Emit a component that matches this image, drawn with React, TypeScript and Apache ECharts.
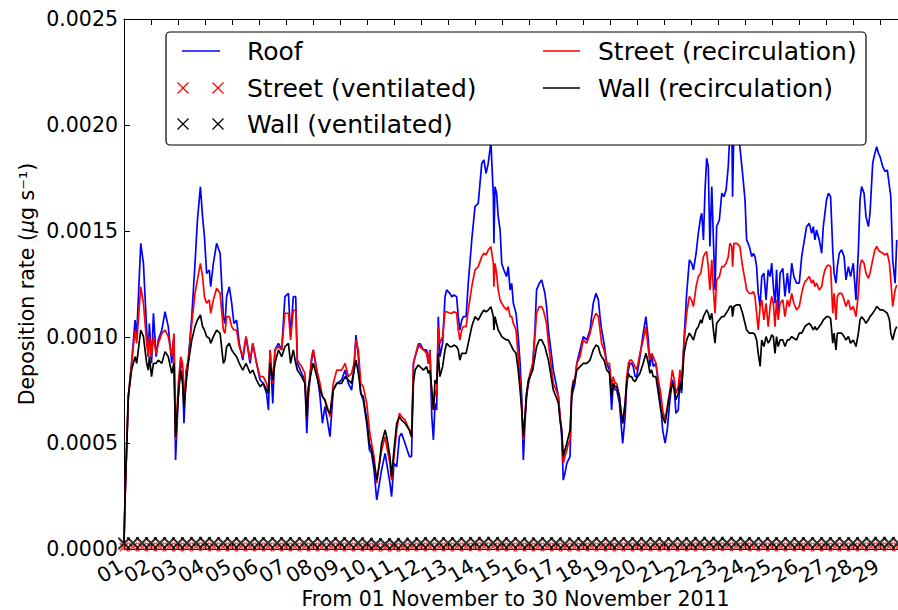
import React, { useEffect, useRef } from 'react';
import * as echarts from 'echarts';

// Day tick labels (01 .. 30 November 2011)
const dayLabels = [
  '01', '02', '03', '04', '05', '06', '07', '08', '09', '10', '11', '12', '13', '14', '15',
  '16', '17', '18', '19', '20', '21', '22', '23', '24', '25', '26', '27', '28', '29', '30',
];

// Time in days of November 2011 (1.0 = 01 Nov 00:00)
const days = [
  1.00, 1.04, 1.16, 1.28, 1.41, 1.47, 1.62, 1.72, 1.84, 1.90, 1.94, 2.02, 2.09, 2.19, 2.27, 2.40, 2.52, 2.64, 2.77, 2.85,
  2.91, 3.01, 3.10, 3.17, 3.22, 3.30, 3.38, 3.51, 3.63, 3.72, 3.83, 3.91, 3.98, 4.06, 4.16, 4.21, 4.31, 4.43, 4.56, 4.68,
  4.74, 4.80, 4.90, 4.99, 5.07, 5.17, 5.27, 5.40, 5.52, 5.67, 5.77, 5.91, 6.04, 6.16, 6.28, 6.35, 6.41, 6.51, 6.59, 6.72,
  6.84, 6.96, 7.09, 7.17, 7.27, 7.36, 7.42, 7.58, 7.70, 7.77, 7.83, 7.95, 8.01, 8.14, 8.26, 8.35, 8.44, 8.53, 8.63, 8.75,
  8.88, 9.06, 9.19, 9.31, 9.43, 9.52, 9.59, 9.68, 9.77, 9.86, 9.99, 10.09, 10.17, 10.26, 10.36, 10.46, 10.54, 10.67, 10.73, 10.85,
  10.91, 11.00, 11.10, 11.20, 11.28, 11.41, 11.57, 11.65, 11.72, 11.78, 11.90, 11.96, 12.09, 12.21, 12.27, 12.33, 12.40, 12.46, 12.52, 12.58,
  12.64, 12.70, 12.80, 12.89, 12.95, 13.07, 13.14, 13.22, 13.32, 13.38, 13.44, 13.51, 13.57, 13.67, 13.75, 13.88, 14.00, 14.12, 14.25, 14.33,
  14.41, 14.49, 14.59, 14.68, 14.70, 14.74, 14.80, 14.86, 14.93, 14.99, 15.07, 15.17, 15.23, 15.30, 15.36, 15.42, 15.52, 15.60, 15.67, 15.73,
  15.79, 15.85, 15.91, 15.98, 16.04, 16.14, 16.22, 16.28, 16.38, 16.47, 16.53, 16.59, 16.65, 16.72, 16.78, 16.84, 16.90, 17.00, 17.09, 17.15,
  17.21, 17.27, 17.33, 17.40, 17.46, 17.52, 17.58, 17.64, 17.70, 17.77, 17.89, 18.01, 18.14, 18.26, 18.38, 18.48, 18.57, 18.63, 18.69, 18.78,
  18.88, 18.98, 19.06, 19.12, 19.19, 19.25, 19.35, 19.40, 19.47, 19.56, 19.62, 19.68, 19.74, 19.80, 19.86, 19.93, 19.99, 20.11, 20.23, 20.33,
  20.42, 20.48, 20.54, 20.60, 20.70, 20.79, 20.88, 20.95, 21.04, 21.12, 21.22, 21.31, 21.38, 21.44, 21.53, 21.59, 21.65, 21.74, 21.84, 21.94,
  22.02, 22.09, 22.19, 22.27, 22.36, 22.40, 22.46, 22.52, 22.58, 22.64, 22.70, 22.77, 22.83, 22.89, 22.95, 23.05, 23.14, 23.22, 23.30, 23.38,
  23.44, 23.51, 23.54, 23.59, 23.69, 23.81, 23.91, 24.00, 24.06, 24.16, 24.25, 24.31, 24.37, 24.43, 24.49, 24.56, 24.62, 24.70, 24.78, 24.86,
  24.93, 24.99, 25.05, 25.11, 25.17, 25.23, 25.30, 25.40, 25.48, 25.57, 25.64, 25.73, 25.81, 25.91, 26.01, 26.10, 26.16, 26.22, 26.28, 26.38,
  26.47, 26.53, 26.59, 26.65, 26.75, 26.84, 26.90, 26.96, 27.02, 27.09, 27.17, 27.25, 27.30, 27.37, 27.42, 27.49, 27.58, 27.67, 27.74, 27.83,
  27.91, 28.01, 28.11, 28.20, 28.26, 28.32, 28.41, 28.48, 28.57, 28.63, 28.73, 28.81, 28.88, 28.94, 29.00, 29.10, 29.19, 29.27, 29.35, 29.40,
  29.47, 29.56, 29.62,
];

// Roof deposition rate (ug s-1)
const roof = [
  3e-5, 24.7e-5, 71.9e-5, 87.6e-5, 108.0e-5, 100.2e-5, 144.2e-5, 134.7e-5, 103.3e-5, 90.7e-5, 106.4e-5, 87.6e-5, 111.2e-5, 90.7e-5, 98.6e-5, 103.3e-5, 111.9e-5, 104.9e-5, 87.6e-5, 100.2e-5,
  42.0e-5, 71.9e-5, 89.1e-5, 84.4e-5, 59.3e-5, 82.9e-5, 89.1e-5, 109.6e-5, 134.7e-5, 155.2e-5, 170.9e-5, 156.8e-5, 147.3e-5, 130.0e-5, 131.6e-5, 123.7e-5, 134.7e-5, 144.2e-5, 139.5e-5, 109.6e-5,
  106.4e-5, 119.0e-5, 123.7e-5, 115.9e-5, 106.4e-5, 108.0e-5, 97.0e-5, 89.1e-5, 100.2e-5, 87.6e-5, 97.0e-5, 87.6e-5, 79.7e-5, 78.1e-5, 73.4e-5, 65.6e-5, 93.9e-5, 68.7e-5, 93.9e-5, 97.0e-5,
  93.9e-5, 119.0e-5, 120.6e-5, 100.2e-5, 119.0e-5, 119.0e-5, 87.6e-5, 82.9e-5, 79.7e-5, 54.6e-5, 71.9e-5, 89.1e-5, 93.9e-5, 84.4e-5, 71.9e-5, 59.3e-5, 67.1e-5, 60.8e-5, 53.0e-5, 75.0e-5,
  78.1e-5, 79.7e-5, 84.4e-5, 78.1e-5, 75.0e-5, 84.4e-5, 100.9e-5, 90.7e-5, 73.4e-5, 70.3e-5, 59.3e-5, 46.7e-5, 45.1e-5, 37.3e-5, 23.1e-5, 31.0e-5, 37.3e-5, 45.1e-5, 40.4e-5, 31.0e-5,
  24.7e-5, 40.4e-5, 38.8e-5, 53.0e-5, 54.6e-5, 49.8e-5, 43.6e-5, 43.6e-5, 87.6e-5, 90.7e-5, 95.4e-5, 97.0e-5, 93.9e-5, 93.9e-5, 87.6e-5, 93.9e-5, 62.4e-5, 51.4e-5, 68.7e-5, 65.6e-5,
  109.6e-5, 90.7e-5, 97.0e-5, 119.0e-5, 122.2e-5, 120.6e-5, 119.0e-5, 119.8e-5, 119.0e-5, 109.6e-5, 103.3e-5, 108.0e-5, 109.6e-5, 109.6e-5, 125.3e-5, 145.8e-5, 161.5e-5, 163.0e-5, 181.9e-5, 183.5e-5,
  177.2e-5, 181.9e-5, 192.0e-5, 166.2e-5, 144.2e-5, 170.9e-5, 167.8e-5, 156.8e-5, 150.5e-5, 134.7e-5, 131.6e-5, 128.5e-5, 133.2e-5, 122.2e-5, 125.3e-5, 115.9e-5, 111.2e-5, 100.2e-5, 87.6e-5, 71.9e-5,
  42.0e-5, 59.3e-5, 71.9e-5, 78.1e-5, 81.3e-5, 87.6e-5, 103.3e-5, 122.2e-5, 125.3e-5, 126.9e-5, 123.7e-5, 120.6e-5, 114.3e-5, 103.3e-5, 97.0e-5, 90.7e-5, 84.4e-5, 78.1e-5, 71.9e-5, 62.4e-5,
  53.0e-5, 32.5e-5, 35.7e-5, 40.4e-5, 42.0e-5, 43.6e-5, 71.9e-5, 75.0e-5, 78.1e-5, 87.6e-5, 93.9e-5, 100.2e-5, 98.6e-5, 103.3e-5, 115.9e-5, 120.6e-5, 117.5e-5, 109.6e-5, 103.3e-5, 97.0e-5,
  87.6e-5, 84.4e-5, 65.6e-5, 78.1e-5, 75.0e-5, 75.0e-5, 68.7e-5, 60.8e-5, 49.8e-5, 62.4e-5, 78.1e-5, 84.4e-5, 87.6e-5, 87.6e-5, 86.0e-5, 81.3e-5, 81.3e-5, 90.8e-5, 101.8e-5, 109.6e-5,
  98.6e-5, 86.1e-5, 92.3e-5, 86.1e-5, 87.6e-5, 78.2e-5, 67.2e-5, 56.2e-5, 49.9e-5, 56.2e-5, 70.3e-5, 79.8e-5, 76.6e-5, 64.0e-5, 65.6e-5, 79.8e-5, 73.5e-5, 98.6e-5, 120.6e-5, 136.4e-5,
  134.8e-5, 131.7e-5, 139.5e-5, 148.9e-5, 156.8e-5, 158.4e-5, 145.8e-5, 169.4e-5, 184.3e-5, 180.4e-5, 142.7e-5, 171.0e-5, 145.8e-5, 122.2e-5, 152.1e-5, 155.2e-5, 167.8e-5, 166.2e-5, 169.4e-5, 180.4e-5,
  196.1e-5, 202.4e-5, 166.2e-5, 199.3e-5, 202.4e-5, 189.8e-5, 177.2e-5, 164.7e-5, 145.8e-5, 142.7e-5, 137.9e-5, 139.5e-5, 137.9e-5, 133.2e-5, 120.6e-5, 114.4e-5, 128.5e-5, 130.1e-5, 117.5e-5, 131.7e-5,
  128.5e-5, 134.8e-5, 123.8e-5, 115.9e-5, 131.7e-5, 111.2e-5, 130.1e-5, 132.4e-5, 119.1e-5, 130.1e-5, 120.6e-5, 134.8e-5, 128.5e-5, 125.4e-5, 125.4e-5, 137.9e-5, 142.7e-5, 147.4e-5, 152.1e-5, 153.6e-5,
  148.9e-5, 152.1e-5, 145.8e-5, 150.5e-5, 145.8e-5, 139.5e-5, 152.1e-5, 158.4e-5, 164.7e-5, 167.8e-5, 166.2e-5, 141.1e-5, 130.1e-5, 125.4e-5, 133.2e-5, 139.5e-5, 141.1e-5, 137.9e-5, 126.9e-5, 133.2e-5,
  128.5e-5, 134.8e-5, 117.5e-5, 141.1e-5, 164.7e-5, 171.0e-5, 167.8e-5, 156.8e-5, 152.1e-5, 158.4e-5, 182.0e-5, 186.7e-5, 189.8e-5, 186.7e-5, 185.1e-5, 180.4e-5, 178.0e-5, 178.8e-5, 171.0e-5, 166.2e-5,
  136.4e-5, 125.4e-5, 145.8e-5,
];

// Street (recirculation)
const streetRecirc = [
  3e-5, 24.7e-5, 71.9e-5, 87.6e-5, 103.3e-5, 97.0e-5, 123.7e-5, 115.9e-5, 97.0e-5, 90.7e-5, 100.2e-5, 90.7e-5, 100.2e-5, 92.3e-5, 97.0e-5, 101.7e-5, 103.3e-5, 100.2e-5, 90.7e-5, 101.7e-5,
  51.4e-5, 78.1e-5, 90.7e-5, 87.6e-5, 68.7e-5, 84.4e-5, 89.1e-5, 106.4e-5, 120.6e-5, 126.9e-5, 134.7e-5, 128.5e-5, 119.0e-5, 115.9e-5, 117.5e-5, 111.2e-5, 117.5e-5, 123.0e-5, 120.6e-5, 103.3e-5,
  101.7e-5, 109.6e-5, 109.6e-5, 104.9e-5, 103.3e-5, 103.3e-5, 95.4e-5, 90.7e-5, 100.2e-5, 89.1e-5, 97.0e-5, 87.6e-5, 81.3e-5, 81.3e-5, 78.1e-5, 73.4e-5, 93.9e-5, 78.1e-5, 93.9e-5, 95.4e-5,
  93.9e-5, 111.2e-5, 111.2e-5, 98.6e-5, 112.7e-5, 112.7e-5, 89.1e-5, 86.0e-5, 82.9e-5, 62.4e-5, 75.0e-5, 90.7e-5, 93.9e-5, 84.4e-5, 78.1e-5, 71.9e-5, 70.3e-5, 67.1e-5, 62.4e-5, 78.1e-5,
  84.4e-5, 84.4e-5, 87.6e-5, 81.3e-5, 82.9e-5, 87.6e-5, 98.6e-5, 93.9e-5, 78.1e-5, 76.6e-5, 68.7e-5, 56.1e-5, 49.8e-5, 43.6e-5, 31.0e-5, 40.4e-5, 46.7e-5, 53.0e-5, 48.3e-5, 40.4e-5,
  32.5e-5, 43.6e-5, 56.1e-5, 64.0e-5, 62.4e-5, 60.8e-5, 56.1e-5, 53.0e-5, 87.6e-5, 90.7e-5, 97.0e-5, 95.4e-5, 93.9e-5, 92.3e-5, 87.6e-5, 93.9e-5, 71.9e-5, 65.6e-5, 75.0e-5, 71.9e-5,
  104.9e-5, 97.0e-5, 100.2e-5, 111.9e-5, 111.9e-5, 111.2e-5, 111.2e-5, 111.9e-5, 111.2e-5, 103.3e-5, 98.6e-5, 103.3e-5, 104.9e-5, 104.9e-5, 112.7e-5, 123.7e-5, 131.6e-5, 133.2e-5, 137.9e-5, 139.5e-5,
  138.7e-5, 141.0e-5, 142.6e-5, 134.7e-5, 123.7e-5, 134.7e-5, 130.0e-5, 122.2e-5, 117.5e-5, 115.9e-5, 114.3e-5, 112.7e-5, 114.3e-5, 109.6e-5, 109.6e-5, 106.4e-5, 103.3e-5, 90.7e-5, 79.7e-5, 67.1e-5,
  51.4e-5, 62.4e-5, 73.4e-5, 79.7e-5, 82.9e-5, 87.6e-5, 100.2e-5, 111.2e-5, 114.3e-5, 114.3e-5, 112.7e-5, 109.6e-5, 106.4e-5, 97.0e-5, 90.7e-5, 84.4e-5, 78.1e-5, 75.0e-5, 71.9e-5, 62.4e-5,
  56.1e-5, 40.4e-5, 43.6e-5, 46.7e-5, 49.8e-5, 51.4e-5, 75.0e-5, 79.7e-5, 79.7e-5, 87.6e-5, 90.7e-5, 98.6e-5, 97.0e-5, 101.7e-5, 108.0e-5, 111.2e-5, 109.6e-5, 103.3e-5, 97.0e-5, 93.9e-5,
  87.6e-5, 87.6e-5, 76.6e-5, 81.3e-5, 78.1e-5, 78.1e-5, 71.9e-5, 65.6e-5, 59.3e-5, 68.7e-5, 81.3e-5, 87.6e-5, 89.1e-5, 89.1e-5, 87.6e-5, 86.0e-5, 84.4e-5, 92.3e-5, 98.6e-5, 104.9e-5,
  93.9e-5, 89.2e-5, 92.3e-5, 90.8e-5, 87.6e-5, 79.8e-5, 73.5e-5, 65.6e-5, 60.9e-5, 67.2e-5, 75.0e-5, 84.5e-5, 79.8e-5, 73.5e-5, 76.6e-5, 84.5e-5, 78.2e-5, 97.1e-5, 111.2e-5, 119.1e-5,
  117.5e-5, 114.4e-5, 123.8e-5, 128.5e-5, 130.1e-5, 133.2e-5, 137.9e-5, 139.5e-5, 140.3e-5, 133.2e-5, 122.2e-5, 136.4e-5, 122.2e-5, 111.2e-5, 127.0e-5, 128.5e-5, 133.2e-5, 133.2e-5, 134.8e-5, 137.9e-5,
  144.2e-5, 142.7e-5, 133.2e-5, 144.2e-5, 144.2e-5, 142.7e-5, 133.2e-5, 126.9e-5, 122.2e-5, 120.6e-5, 120.6e-5, 121.4e-5, 119.1e-5, 111.2e-5, 103.3e-5, 114.4e-5, 117.5e-5, 108.1e-5, 115.9e-5, 104.9e-5,
  114.4e-5, 119.1e-5, 115.9e-5, 104.9e-5, 117.5e-5, 108.1e-5, 115.9e-5, 117.5e-5, 109.6e-5, 117.5e-5, 114.4e-5, 120.6e-5, 115.9e-5, 112.8e-5, 114.4e-5, 120.6e-5, 123.8e-5, 126.1e-5, 126.9e-5, 128.5e-5,
  125.4e-5, 126.9e-5, 123.8e-5, 125.4e-5, 122.2e-5, 123.8e-5, 128.5e-5, 131.7e-5, 133.2e-5, 134.0e-5, 133.2e-5, 111.2e-5, 120.6e-5, 108.1e-5, 119.1e-5, 120.6e-5, 120.6e-5, 117.5e-5, 114.4e-5, 117.5e-5,
  112.8e-5, 114.4e-5, 109.6e-5, 120.6e-5, 133.2e-5, 136.4e-5, 134.8e-5, 130.1e-5, 127.7e-5, 130.1e-5, 136.4e-5, 141.1e-5, 142.7e-5, 141.1e-5, 140.3e-5, 139.5e-5, 138.7e-5, 139.5e-5, 134.8e-5, 126.9e-5,
  114.4e-5, 122.2e-5, 124.5e-5,
];

// Wall (recirculation)
const wallRecirc = [
  3e-5, 24.7e-5, 71.9e-5, 84.4e-5, 90.7e-5, 87.6e-5, 103.3e-5, 100.2e-5, 87.6e-5, 84.4e-5, 90.7e-5, 81.3e-5, 87.6e-5, 87.6e-5, 89.1e-5, 87.6e-5, 93.1e-5, 90.7e-5, 82.9e-5, 87.6e-5,
  53.0e-5, 71.9e-5, 84.4e-5, 78.1e-5, 67.1e-5, 78.1e-5, 87.6e-5, 98.6e-5, 104.9e-5, 108.0e-5, 110.4e-5, 104.9e-5, 103.3e-5, 100.2e-5, 99.4e-5, 97.0e-5, 100.2e-5, 103.3e-5, 101.7e-5, 87.6e-5,
  89.1e-5, 95.4e-5, 97.0e-5, 93.9e-5, 92.3e-5, 90.7e-5, 87.6e-5, 84.4e-5, 87.6e-5, 82.9e-5, 84.4e-5, 79.7e-5, 76.6e-5, 78.1e-5, 75.0e-5, 73.4e-5, 87.6e-5, 79.7e-5, 87.6e-5, 93.9e-5,
  90.7e-5, 95.4e-5, 97.0e-5, 87.6e-5, 93.9e-5, 87.6e-5, 84.4e-5, 81.3e-5, 78.1e-5, 62.4e-5, 76.6e-5, 84.4e-5, 87.6e-5, 81.3e-5, 75.0e-5, 71.9e-5, 70.3e-5, 65.6e-5, 64.0e-5, 75.0e-5,
  78.1e-5, 78.1e-5, 81.3e-5, 79.7e-5, 78.1e-5, 84.4e-5, 89.1e-5, 82.9e-5, 73.4e-5, 71.9e-5, 60.8e-5, 49.8e-5, 46.7e-5, 40.4e-5, 32.5e-5, 40.4e-5, 49.8e-5, 56.1e-5, 53.0e-5, 43.6e-5,
  34.1e-5, 46.7e-5, 59.3e-5, 62.4e-5, 60.8e-5, 59.3e-5, 56.1e-5, 53.0e-5, 78.1e-5, 84.4e-5, 86.8e-5, 86.0e-5, 84.4e-5, 86.0e-5, 82.9e-5, 84.4e-5, 75.0e-5, 65.6e-5, 79.7e-5, 78.1e-5,
  92.3e-5, 81.3e-5, 86.0e-5, 93.9e-5, 97.0e-5, 95.4e-5, 95.4e-5, 96.2e-5, 95.4e-5, 93.9e-5, 89.1e-5, 92.3e-5, 92.3e-5, 92.3e-5, 97.0e-5, 104.9e-5, 109.6e-5, 108.0e-5, 111.2e-5, 112.7e-5,
  111.9e-5, 112.7e-5, 114.3e-5, 109.6e-5, 103.3e-5, 109.6e-5, 106.4e-5, 103.3e-5, 101.7e-5, 100.2e-5, 99.4e-5, 98.6e-5, 98.6e-5, 97.0e-5, 95.4e-5, 93.9e-5, 92.3e-5, 84.4e-5, 75.0e-5, 65.6e-5,
  53.0e-5, 62.4e-5, 73.4e-5, 79.7e-5, 81.3e-5, 84.4e-5, 90.7e-5, 95.4e-5, 98.6e-5, 98.6e-5, 97.0e-5, 95.4e-5, 92.3e-5, 89.1e-5, 84.4e-5, 79.7e-5, 75.0e-5, 71.9e-5, 68.7e-5, 60.8e-5,
  56.1e-5, 43.6e-5, 46.7e-5, 49.8e-5, 53.0e-5, 56.1e-5, 71.9e-5, 78.1e-5, 79.7e-5, 84.4e-5, 86.0e-5, 87.6e-5, 87.6e-5, 89.1e-5, 93.9e-5, 96.2e-5, 95.4e-5, 92.3e-5, 90.7e-5, 89.1e-5,
  84.4e-5, 82.9e-5, 71.9e-5, 78.1e-5, 76.6e-5, 76.6e-5, 71.9e-5, 65.6e-5, 59.3e-5, 68.7e-5, 78.1e-5, 82.9e-5, 81.3e-5, 81.3e-5, 79.7e-5, 78.9e-5, 80.5e-5, 82.9e-5, 87.6e-5, 92.3e-5,
  87.6e-5, 82.9e-5, 84.5e-5, 81.3e-5, 81.3e-5, 73.5e-5, 65.6e-5, 62.5e-5, 59.3e-5, 65.6e-5, 73.5e-5, 78.2e-5, 75.0e-5, 70.3e-5, 73.5e-5, 78.2e-5, 75.0e-5, 92.3e-5, 98.6e-5, 101.8e-5,
  100.2e-5, 98.6e-5, 103.3e-5, 104.9e-5, 108.1e-5, 106.5e-5, 109.6e-5, 111.2e-5, 112.8e-5, 111.2e-5, 108.1e-5, 111.2e-5, 103.3e-5, 97.1e-5, 106.5e-5, 108.1e-5, 109.6e-5, 109.6e-5, 111.2e-5, 112.8e-5,
  114.4e-5, 114.4e-5, 109.6e-5, 114.4e-5, 115.2e-5, 115.2e-5, 111.2e-5, 106.5e-5, 103.3e-5, 101.8e-5, 101.8e-5, 101.8e-5, 101.0e-5, 98.6e-5, 92.3e-5, 86.1e-5, 98.6e-5, 95.5e-5, 100.2e-5, 97.1e-5,
  98.6e-5, 101.0e-5, 100.2e-5, 92.3e-5, 100.2e-5, 95.5e-5, 98.6e-5, 98.6e-5, 95.5e-5, 98.6e-5, 98.6e-5, 100.2e-5, 99.4e-5, 98.6e-5, 101.8e-5, 101.8e-5, 103.3e-5, 104.9e-5, 105.7e-5, 106.5e-5,
  104.9e-5, 103.3e-5, 104.9e-5, 103.3e-5, 104.9e-5, 106.5e-5, 108.1e-5, 108.8e-5, 109.6e-5, 109.6e-5, 108.8e-5, 97.1e-5, 101.8e-5, 93.9e-5, 101.8e-5, 101.8e-5, 101.8e-5, 100.2e-5, 98.6e-5, 100.2e-5,
  97.1e-5, 98.6e-5, 95.5e-5, 101.8e-5, 108.1e-5, 109.6e-5, 108.1e-5, 106.5e-5, 108.1e-5, 109.6e-5, 111.2e-5, 112.8e-5, 114.4e-5, 113.6e-5, 112.8e-5, 112.8e-5, 112.0e-5, 111.2e-5, 108.1e-5, 101.8e-5,
  98.6e-5, 103.3e-5, 104.9e-5,
];

// Ventilated cases: sampled every 8 hours
const ventDays = [
  1.00, 1.33, 1.67, 2.00, 2.33, 2.67, 3.00, 3.33, 3.67, 4.00, 4.33, 4.67, 5.00, 5.33, 5.67, 6.00, 6.33, 6.67, 7.00, 7.33,
  7.67, 8.00, 8.33, 8.67, 9.00, 9.33, 9.67, 10.00, 10.33, 10.67, 11.00, 11.33, 11.67, 12.00, 12.33, 12.67, 13.00, 13.33, 13.67, 14.00,
  14.33, 14.67, 15.00, 15.33, 15.67, 16.00, 16.33, 16.67, 17.00, 17.33, 17.67, 18.00, 18.33, 18.67, 19.00, 19.33, 19.67, 20.00, 20.33, 20.67,
  21.00, 21.33, 21.67, 22.00, 22.33, 22.67, 23.00, 23.33, 23.67, 24.00, 24.33, 24.67, 25.00, 25.33, 25.67, 26.00, 26.33, 26.67, 27.00, 27.33,
  27.67, 28.00, 28.33, 28.67, 29.00, 29.33, 29.67,
];
const streetVent = [
  0.9e-5, 1.0e-5, 1.0e-5, 1.0e-5, 1.0e-5, 1.0e-5, 1.0e-5, 1.0e-5, 1.1e-5, 1.1e-5, 1.0e-5, 1.0e-5, 1.0e-5, 1.0e-5, 1.0e-5, 1.0e-5, 1.0e-5, 1.0e-5, 1.0e-5, 1.0e-5,
  1.0e-5, 1.0e-5, 1.0e-5, 1.0e-5, 1.0e-5, 1.0e-5, 1.0e-5, 0.9e-5, 0.8e-5, 0.8e-5, 0.8e-5, 0.8e-5, 0.9e-5, 1.0e-5, 1.0e-5, 1.0e-5, 1.0e-5, 1.0e-5, 1.0e-5, 1.1e-5,
  1.1e-5, 1.1e-5, 1.0e-5, 1.0e-5, 1.0e-5, 0.9e-5, 1.0e-5, 1.0e-5, 1.0e-5, 0.8e-5, 1.0e-5, 1.0e-5, 1.0e-5, 1.0e-5, 1.0e-5, 1.0e-5, 1.0e-5, 1.0e-5, 1.0e-5, 1.0e-5,
  0.9e-5, 1.0e-5, 1.0e-5, 1.0e-5, 1.1e-5, 1.1e-5, 1.1e-5, 1.1e-5, 1.1e-5, 1.1e-5, 1.0e-5, 1.0e-5, 1.0e-5, 1.0e-5, 1.0e-5, 1.0e-5, 1.0e-5, 1.0e-5, 1.0e-5, 1.0e-5,
  1.0e-5, 1.0e-5, 1.0e-5, 1.1e-5, 1.1e-5, 1.1e-5, 1.0e-5,
];
const wallVent = [
  2.6e-5, 2.8e-5, 2.8e-5, 2.8e-5, 2.8e-5, 2.8e-5, 2.7e-5, 2.8e-5, 2.9e-5, 2.9e-5, 2.8e-5, 2.8e-5, 2.8e-5, 2.8e-5, 2.8e-5, 2.8e-5, 2.8e-5, 2.8e-5, 2.8e-5, 2.8e-5,
  2.8e-5, 2.8e-5, 2.8e-5, 2.8e-5, 2.8e-5, 2.8e-5, 2.8e-5, 2.6e-5, 2.4e-5, 2.4e-5, 2.4e-5, 2.5e-5, 2.6e-5, 2.8e-5, 2.8e-5, 2.8e-5, 2.8e-5, 2.8e-5, 2.8e-5, 2.9e-5,
  2.9e-5, 2.9e-5, 2.8e-5, 2.8e-5, 2.8e-5, 2.6e-5, 2.8e-5, 2.8e-5, 2.8e-5, 2.5e-5, 2.8e-5, 2.8e-5, 2.8e-5, 2.8e-5, 2.8e-5, 2.8e-5, 2.8e-5, 2.8e-5, 2.8e-5, 2.8e-5,
  2.7e-5, 2.8e-5, 2.8e-5, 2.8e-5, 2.9e-5, 2.9e-5, 2.9e-5, 2.9e-5, 2.9e-5, 2.9e-5, 2.8e-5, 2.8e-5, 2.8e-5, 2.8e-5, 2.8e-5, 2.8e-5, 2.8e-5, 2.8e-5, 2.8e-5, 2.8e-5,
  2.8e-5, 2.8e-5, 2.8e-5, 2.9e-5, 2.9e-5, 2.9e-5, 2.8e-5,
];

const yTicks = [0, 0.0005, 0.001, 0.0015, 0.002, 0.0025];

const FONT = '"DejaVu Sans", "Liberation Sans", sans-serif';
const X_SYMBOL = 'path://M0,0L1.3,0L5,3.7L8.7,0L10,0L10,1.3L6.3,5L10,8.7L10,10L8.7,10L5,6.3L1.3,10L0,10L0,8.7L3.7,5L0,1.3Z';
const LINE_W = 1.7;

function pairs(xs: number[], ys: number[]) {
  return xs.map((x, i) => [x, ys[i]]);
}

function crossGraphic(cx: number, cy: number, half: number, color: string) {
  return [
    { type: 'line', shape: { x1: cx - half, y1: cy - half, x2: cx + half, y2: cy + half }, style: { stroke: color, lineWidth: 1.2 }, z: 101 },
    { type: 'line', shape: { x1: cx - half, y1: cy + half, x2: cx + half, y2: cy - half }, style: { stroke: color, lineWidth: 1.2 }, z: 101 },
  ];
}

export default function App() {
  const ref = useRef<HTMLDivElement>(null);
  useEffect(() => {
    if (!ref.current) return;
    const chart = echarts.init(ref.current, undefined, { renderer: 'svg' });
    const legendFont = `25px ${FONT}`;
    const tickStyle = { show: true, inside: true, length: 6, lineStyle: { color: '#000', width: 1 } };
    const lineAxis = { show: true, lineStyle: { color: '#000', width: 1 } };
    const option: any = {
      animation: false,
      backgroundColor: '#ffffff',
      grid: { left: 124, right: -9, top: 19, bottom: 61, containLabel: false, outerBoundsMode: 'none' },
      xAxis: [
        {
          // visible bottom axis: one tick and label per day
          type: 'category', data: dayLabels, boundaryGap: false, position: 'bottom',
          name: 'From 01 November to 30 November 2011',
          nameLocation: 'middle', nameGap: 39.5, nameMoveOverlap: false,
          nameTextStyle: { fontFamily: FONT, fontSize: 20.5, color: '#000' },
          axisLine: lineAxis,
          axisTick: { ...tickStyle, interval: 0 },
          axisLabel: {
            show: true, interval: 0, rotate: 30, margin: 14, fontFamily: FONT, fontSize: 20.5, color: '#000',
            padding: [0, 3, 0, 0],
            formatter: (v: string) => (v === '30' ? '' : v),
          },
          splitLine: { show: false },
        },
        {
          // continuous time axis used by the series
          type: 'value', min: 1, max: 30, show: false, position: 'bottom',
        },
        {
          type: 'value', position: 'top', min: 1, max: 30, interval: 1,
          axisLine: lineAxis,
          axisTick: tickStyle,
          axisLabel: { show: false },
          splitLine: { show: false },
        },
      ],
      yAxis: [
        {
          type: 'value', min: 0, max: 0.0025, interval: 0.0005,
          name: 'Deposition rate ({i|\u03bc}g s\u207b\u00b9)',
          nameLocation: 'middle', nameGap: 87, nameRotate: 90, nameMoveOverlap: false,
          nameTextStyle: {
            fontFamily: FONT, fontSize: 20.5, color: '#000',
            rich: { i: { fontFamily: FONT, fontSize: 20.5, fontStyle: 'italic', color: '#000' } },
          },
          axisLine: lineAxis,
          axisTick: tickStyle,
          axisLabel: {
            margin: 6, fontFamily: FONT, fontSize: 20.5, color: '#000',
            formatter: (v: number) => {
              const t = yTicks.find((y) => Math.abs(y - v) < 1e-9);
              return t === undefined ? '' : t.toFixed(4);
            },
          },
          splitLine: { show: false },
        },
      ],
      series: [
        {
          name: 'Roof', type: 'line', xAxisIndex: 1, data: pairs(days, roof), showSymbol: false,
          lineStyle: { color: '#0000ff', width: LINE_W }, itemStyle: { color: '#0000ff' }, z: 2,
        },
        {
          name: 'Street (ventilated)', type: 'scatter', xAxisIndex: 1, data: pairs(ventDays, streetVent),
          symbol: X_SYMBOL, symbolSize: 9, itemStyle: { color: '#ff0000' }, z: 3,
        },
        {
          name: 'Wall (ventilated)', type: 'scatter', xAxisIndex: 1, data: pairs(ventDays, wallVent),
          symbol: X_SYMBOL, symbolSize: 12, itemStyle: { color: '#000000' }, z: 4,
        },
        {
          name: 'Street (recirculation)', type: 'line', xAxisIndex: 1, data: pairs(days, streetRecirc), showSymbol: false,
          lineStyle: { color: '#ff0000', width: LINE_W }, itemStyle: { color: '#ff0000' }, z: 5,
        },
        {
          name: 'Wall (recirculation)', type: 'line', xAxisIndex: 1, data: pairs(days, wallRecirc), showSymbol: false,
          lineStyle: { color: '#000000', width: LINE_W }, itemStyle: { color: '#000000' }, z: 6,
        },
      ],
      graphic: [
        {
          type: 'rect', shape: { x: 166, y: 32, width: 700, height: 113, r: 4 },
          style: { fill: '#ffffff', stroke: '#000000', lineWidth: 1.2 }, z: 100,
        },
        { type: 'line', shape: { x1: 182, y1: 51, x2: 220, y2: 51 }, style: { stroke: '#0000ff', lineWidth: LINE_W }, z: 101 },
        { type: 'text', x: 247, y: 51, style: { text: 'Roof', font: legendFont, fill: '#000', verticalAlign: 'middle' }, z: 101 },
        ...crossGraphic(183, 88, 5.5, '#ff0000'),
        ...crossGraphic(218, 88, 5.5, '#ff0000'),
        { type: 'text', x: 247, y: 88, style: { text: 'Street (ventilated)', font: legendFont, fill: '#000', verticalAlign: 'middle' }, z: 101 },
        ...crossGraphic(183, 124, 5.5, '#000000'),
        ...crossGraphic(218, 124, 5.5, '#000000'),
        { type: 'text', x: 247, y: 124, style: { text: 'Wall (ventilated)', font: legendFont, fill: '#000', verticalAlign: 'middle' }, z: 101 },
        { type: 'line', shape: { x1: 543, y1: 51, x2: 580, y2: 51 }, style: { stroke: '#ff0000', lineWidth: LINE_W }, z: 101 },
        { type: 'text', x: 598, y: 51, style: { text: 'Street (recirculation)', font: legendFont, fill: '#000', verticalAlign: 'middle' }, z: 101 },
        { type: 'line', shape: { x1: 543, y1: 88, x2: 580, y2: 88 }, style: { stroke: '#000000', lineWidth: LINE_W }, z: 101 },
        { type: 'text', x: 598, y: 88, style: { text: 'Wall (recirculation)', font: legendFont, fill: '#000', verticalAlign: 'middle' }, z: 101 },
      ],
    };
    chart.setOption(option);
    return () => chart.dispose();
  }, []);
  return <div ref={ref} style={{ position: 'fixed', left: 0, top: 0, width: 898, height: 610, background: '#fff' }} />;
}
